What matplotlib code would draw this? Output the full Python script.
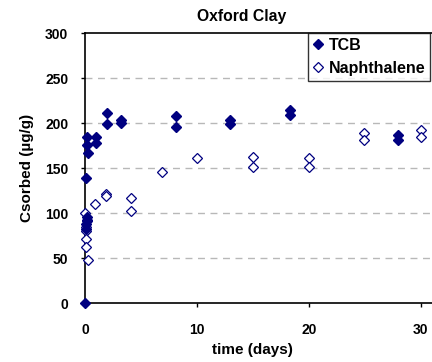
import matplotlib
matplotlib.use("Agg")
import matplotlib.pyplot as plt

plt.rcParams['font.family'] = ['Liberation Sans', 'DejaVu Sans']
plt.rcParams['font.weight'] = 'bold'

title = "Oxford Clay"
x_label = "time (days)"
y_label = "Csorbed (µg/g)"

tcb_t = [0, 0.05, 0.1, 0.15, 0.2, 0.1, 0.3, 0.15, 0.15, 1, 1, 2, 2, 3.2, 3.2,
         8.1, 8.1, 13, 13, 18.3, 18.3, 28, 28]
tcb_c = [0, 83, 88, 93, 96, 139, 167, 176, 185, 185, 178, 212, 199, 204, 200,
         208, 196, 204, 199, 215, 209, 187, 181]

nap_t = [0, 0.05, 0.05, 0.05, 0.1, 0.15, 0.3, 0.85, 1.9, 1.9, 4.1, 4.1, 6.9,
         10, 15, 15, 20, 20, 24.9, 24.9, 30, 30]
nap_c = [100, 85, 80, 71, 63, 92, 48, 110, 122, 119, 117, 103, 146,
         161, 163, 151, 162, 152, 189, 181, 193, 185]

x_ticks = [0, 10, 20, 30]
y_ticks = [0, 50, 100, 150, 200, 250, 300]

W, H = 432, 362
fig = plt.figure(figsize=(W / 100, H / 100), dpi=100)
x0, x1 = 85, 85 + 35 * 11.19
y_top, y_bot = 33.3, 303.3
ax = fig.add_axes([x0 / W, 1 - y_bot / H, (x1 - x0) / W, (y_bot - y_top) / H])

navy = '#000080'
ax.plot(tcb_t, tcb_c, linestyle='none', marker='D', markersize=5.2,
        color=navy, markeredgecolor=navy, clip_on=False, zorder=4, label='TCB')
ax.plot(nap_t, nap_c, linestyle='none', marker='D', markersize=5.0,
        markerfacecolor='white', markeredgecolor=navy, markeredgewidth=0.9,
        clip_on=False, zorder=3, label='Naphthalene')

ax.set_xlim(0, 35)
ax.set_ylim(0, 300)
ax.set_xticks(x_ticks)
ax.set_yticks(y_ticks)
ax.tick_params(axis='both', direction='out', length=3, width=1, labelsize=10)
ax.tick_params(axis='y', pad=9)
ax.tick_params(axis='x', pad=11)
for lbl in ax.get_xticklabels() + ax.get_yticklabels():
    lbl.set_fontweight('bold')

for v in [50, 100, 150, 200, 250]:
    ax.axhline(v, color='#b8b8b8', linewidth=1, linestyle=(0, (5, 4)), zorder=1)

for s in ['left', 'bottom', 'top']:
    ax.spines[s].set_linewidth(1.2)
    ax.spines[s].set_color('black')
ax.spines['right'].set_visible(False)

fig.text(242 / W, 1 - 17 / H, title, ha='center', va='center',
         fontsize=11.3, fontweight='bold')
fig.text(252.5 / W, 1 - 350 / H, x_label, ha='center', va='center',
         fontsize=11, fontweight='bold')
fig.text(27 / W, 1 - 168 / H, y_label, ha='center', va='center',
         rotation=90, fontsize=11, fontweight='bold')

leg = fig.legend(loc='upper left', bbox_to_anchor=(308 / W, 1 - 33 / H),
                 bbox_transform=fig.transFigure, fontsize=11.5, frameon=True,
                 fancybox=False, handlelength=0.6, handletextpad=0.4,
                 borderpad=0.3, labelspacing=0.5, borderaxespad=0)
leg.get_frame().set_edgecolor('black')
leg.get_frame().set_linewidth(1.0)
for t in leg.get_texts():
    t.set_fontweight('bold')

fig.savefig('out.png', dpi=100)
